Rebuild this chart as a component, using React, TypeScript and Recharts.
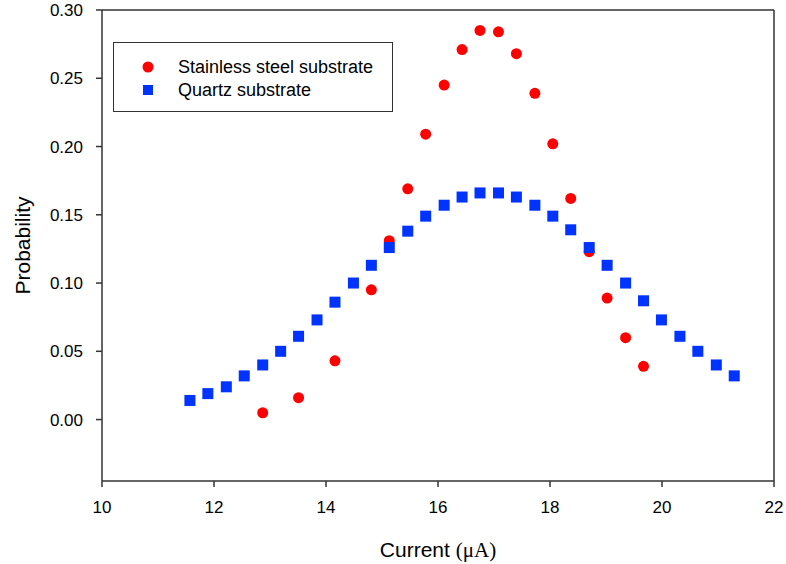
import { ScatterChart, Scatter, XAxis, YAxis, Legend, ReferenceLine } from 'recharts';

// current values (uA)
const quartzX = [
  11.57, 11.89, 12.22, 12.54, 12.87, 13.19, 13.51, 13.84, 14.16, 14.49, 14.81,
  15.13, 15.46, 15.78, 16.11, 16.43, 16.75, 17.08, 17.4, 17.73, 18.05, 18.37,
  18.7, 19.02, 19.35, 19.67, 19.99, 20.32, 20.64, 20.97, 21.29,
];
const quartzY = [
  0.014, 0.019, 0.024, 0.032, 0.04, 0.05, 0.061, 0.073, 0.086, 0.1, 0.113,
  0.126, 0.138, 0.149, 0.157, 0.163, 0.166, 0.166, 0.163, 0.157, 0.149, 0.139,
  0.126, 0.113, 0.1, 0.087, 0.073, 0.061, 0.05, 0.04, 0.032,
];

const steelX = [
  12.87, 13.51, 14.16, 14.81, 15.13, 15.46, 15.78, 16.11, 16.43, 16.75, 17.08,
  17.4, 17.73, 18.05, 18.37, 18.7, 19.02, 19.35, 19.67,
];
const steelY = [
  0.005, 0.016, 0.043, 0.095, 0.131, 0.169, 0.209, 0.245, 0.271, 0.285, 0.284,
  0.268, 0.239, 0.202, 0.162, 0.123, 0.089, 0.06, 0.039,
];

const seriesNames = ['Stainless steel substrate', 'Quartz substrate'];
const xTicks = [10, 12, 14, 16, 18, 20, 22];
const yTicks = [0, 0.05, 0.1, 0.15, 0.2, 0.25, 0.3];

const steel = steelX.map((x, i) => ({ x, y: steelY[i] }));
const quartz = quartzX.map((x, i) => ({ x, y: quartzY[i] }));

const FONT = '"Liberation Sans", Arial, sans-serif';
const AXIS = '#333';

const RedDot = (props: any) => <circle cx={props.cx} cy={props.cy} r={5.5} fill="#ff0000" />;
const BlueSquare = (props: any) => (
  <rect x={props.cx - 5.5} y={props.cy - 5.5} width={11} height={11} fill="#0033ff" />
);

function LegendBox({ payload }: any) {
  // keep the order the series were plotted in
  const items = [...(payload || [])].sort(
    (a: any, b: any) => seriesNames.indexOf(a.value) - seriesNames.indexOf(b.value)
  );
  return (
    <div
      style={{
        position: 'relative',
        width: 280,
        height: 70,
        border: '1px solid #333',
        boxSizing: 'border-box',
        background: '#fff',
        fontFamily: FONT,
        fontSize: 18,
        color: '#000',
      }}
    >
      {items.map((entry: any, i: number) => (
        <div
          key={entry.value}
          style={{ position: 'absolute', left: 0, top: 13 + i * 23, height: 22, width: 278, lineHeight: '22px' }}
        >
          <svg width={12} height={12} style={{ position: 'absolute', left: 28, top: 5 }}>
            {entry.type === 'square' ? (
              <rect x={1} y={1} width={10} height={10} fill={entry.color} />
            ) : (
              <circle cx={6} cy={6} r={5.5} fill={entry.color} />
            )}
          </svg>
          <span style={{ position: 'absolute', left: 64, top: 0, whiteSpace: 'nowrap' }}>{entry.value}</span>
        </div>
      ))}
    </div>
  );
}

const YTitle = ({ viewBox }: any) => {
  const cx = 22;
  const cy = viewBox.y + viewBox.height / 2;
  return (
    <text x={cx} y={cy} transform={`rotate(-90 ${cx} ${cy})`} textAnchor="middle" dominantBaseline="central"
      fontFamily={FONT} fontSize={21} fill="#000">
      Probability
    </text>
  );
};

const XTitle = ({ viewBox }: any) => {
  const cx = viewBox.x + viewBox.width / 2;
  return (
    <text x={cx} y={557} textAnchor="middle" fontFamily={FONT} fontSize={21} fill="#000">
      Current <tspan fontFamily='"Liberation Serif", "Times New Roman", serif'>(μA)</tspan>
    </text>
  );
};

export default function App() {
  return (
    <div style={{ position: 'absolute', left: 0, top: 0, background: '#fff' }}>
      <ScatterChart width={786} height={564} margin={{ top: 10, right: 12, bottom: 0, left: 0 }}>
        <XAxis
          type="number"
          dataKey="x"
          domain={[10, 22]}
          ticks={xTicks}
          height={83}
          tickSize={6}
          tickMargin={14}
          stroke={AXIS}
          strokeWidth={1.5}
          tick={{ fill: '#000', fontFamily: FONT, fontSize: 17 }}
          label={<XTitle />}
        />
        <YAxis
          type="number"
          dataKey="y"
          domain={[-0.045, 0.3]}
          ticks={yTicks}
          allowDataOverflow
          width={102}
          tickSize={6}
          tickMargin={13}
          stroke={AXIS}
          strokeWidth={1.5}
          tickFormatter={(v: number) => v.toFixed(2)}
          tick={{ fill: '#000', fontFamily: FONT, fontSize: 17 }}
          label={<YTitle />}
        />
        <ReferenceLine y={0.3} stroke={AXIS} strokeWidth={1.5} />
        <ReferenceLine x={22} stroke={AXIS} strokeWidth={1.5} />
        <Legend
          layout="vertical"
          align="center"
          verticalAlign="middle"
          wrapperStyle={{ left: 113, top: 42, width: 280, height: 70 }}
          content={<LegendBox />}
        />
        <Scatter
          name={seriesNames[0]}
          data={steel}
          fill="#ff0000"
          legendType="circle"
          shape={<RedDot />}
          isAnimationActive={false}
        />
        <Scatter
          name={seriesNames[1]}
          data={quartz}
          fill="#0033ff"
          legendType="square"
          shape={<BlueSquare />}
          isAnimationActive={false}
        />
      </ScatterChart>
    </div>
  );
}
